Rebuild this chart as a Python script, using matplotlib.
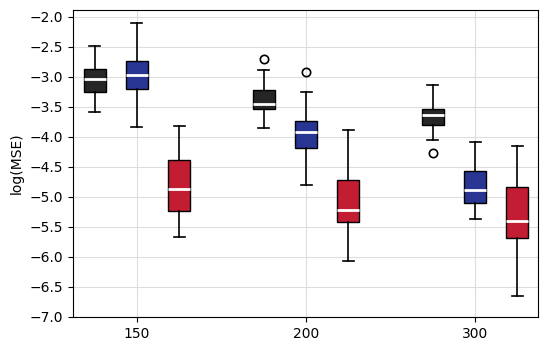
import matplotlib
matplotlib.use("Agg")
import matplotlib.pyplot as plt
import numpy as np

GROUPS = ["150", "200", "300"]
COLORS = ["#262626", "#283593", "#c21d33"]

# per series: one value per group (150, 200, 300)
WHISK_HI = [[-2.49, -2.89, -3.14], [-2.10, -3.25, -4.09], [-3.82, -3.89, -4.15]]
Q3 = [[-2.87, -3.22, -3.53], [-2.74, -3.74, -4.57], [-4.38, -4.72, -4.84]]
MED = [[-3.03, -3.46, -3.63], [-2.97, -3.92, -4.89], [-4.87, -5.22, -5.40]]
Q1 = [[-3.26, -3.54, -3.81], [-3.21, -4.18, -5.10], [-5.23, -5.42, -5.69]]
WHISK_LO = [[-3.59, -3.85, -4.06], [-3.84, -4.80, -5.36], [-5.67, -6.06, -6.65]]
OUTLIERS = [[[], [-2.71], [-4.27]], [[], [-2.92], []], [[], [], []]]

fig = plt.figure(figsize=(5.48, 3.51), dpi=100)
ax = fig.add_axes([0.133, 0.097, 0.849, 0.875])

offsets = [-0.25, 0.0, 0.25]
for s in range(3):
    stats = []
    for g in range(len(GROUPS)):
        stats.append(dict(whislo=WHISK_LO[s][g], q1=Q1[s][g], med=MED[s][g],
                          q3=Q3[s][g], whishi=WHISK_HI[s][g], fliers=OUTLIERS[s][g]))
    pos = np.arange(len(GROUPS)) + offsets[s]
    ax.bxp(stats, positions=pos, widths=0.13, patch_artist=True,
           boxprops=dict(facecolor=COLORS[s], edgecolor="black", linewidth=1),
           medianprops=dict(color="white", linewidth=2),
           whiskerprops=dict(color="black", linewidth=1.2),
           capprops=dict(color="black", linewidth=1.2),
           flierprops=dict(marker="o", markerfacecolor="none",
                           markeredgecolor="black", markersize=6, markeredgewidth=1.2),
           manage_ticks=False)

ax.set_xticks(np.arange(len(GROUPS)))
ax.set_xticklabels(GROUPS)
ax.set_xlim(-0.379, 2.373)
ax.set_ylim(-7.0, -1.883)
ax.set_yticks(np.arange(-7.0, -1.99, 0.5))
ax.set_ylabel("log(MSE)")
ax.grid(True, color="#dddddd", linewidth=0.8)
ax.set_axisbelow(True)

fig.savefig("out.png", dpi=100)
